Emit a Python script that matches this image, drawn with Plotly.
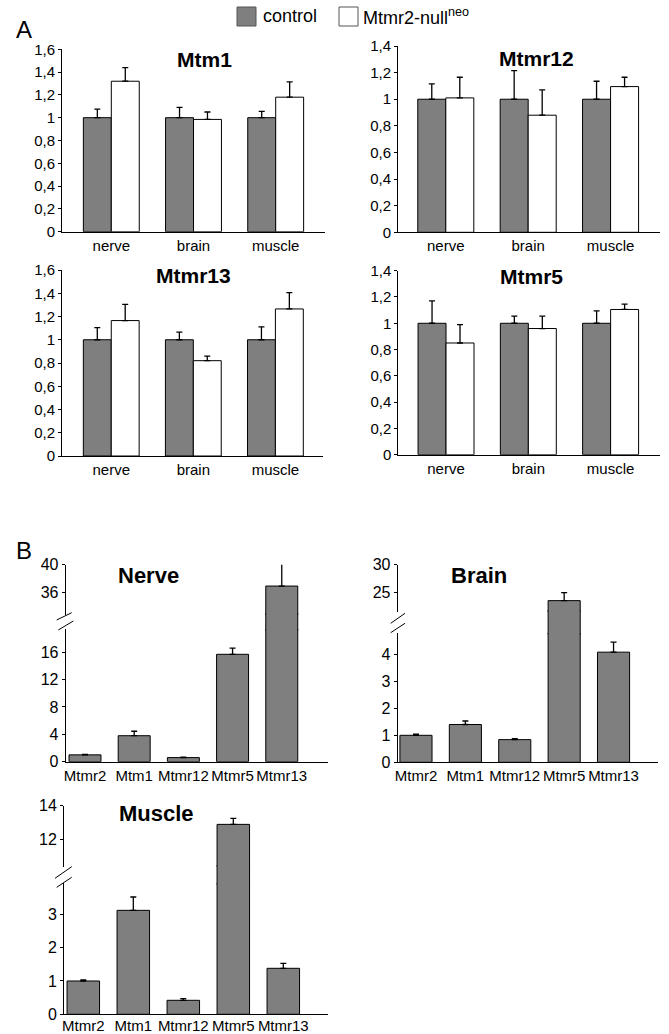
import plotly.graph_objects as go

W, H = 669, 1034
FONT = "Liberation Sans, Arial, Helvetica, sans-serif"
GREY = "#7f7f7f"

# ---------------- data ----------------
regions = ["nerve", "brain", "muscle"]
genes_b = ["Mtmr2", "Mtm1", "Mtmr12", "Mtmr5", "Mtmr13"]

a_titles = ["Mtm1", "Mtmr12", "Mtmr13", "Mtmr5"]

mtm1_control = [1.0, 1.0, 1.0]
mtm1_control_err = [0.075, 0.09, 0.055]
mtm1_null = [1.32, 0.985, 1.18]
mtm1_null_err = [0.12, 0.065, 0.135]

mtmr12_control = [1.0, 1.0, 1.0]
mtmr12_control_err = [0.115, 0.215, 0.135]
mtmr12_null = [1.01, 0.88, 1.095]
mtmr12_null_err = [0.155, 0.19, 0.07]

mtmr13_control = [1.0, 1.0, 1.0]
mtmr13_control_err = [0.105, 0.065, 0.11]
mtmr13_null = [1.165, 0.82, 1.265]
mtmr13_null_err = [0.14, 0.04, 0.14]

mtmr5_control = [1.0, 1.0, 1.0]
mtmr5_control_err = [0.17, 0.055, 0.095]
mtmr5_null = [0.85, 0.96, 1.105]
mtmr5_null_err = [0.14, 0.095, 0.04]

ticks_16_vals = [0, 0.2, 0.4, 0.6, 0.8, 1.0, 1.2, 1.4, 1.6]
ticks_16_text = ["0", "0,2", "0,4", "0,6", "0,8", "1", "1,2", "1,4", "1,6"]
ticks_14_vals = [0, 0.2, 0.4, 0.6, 0.8, 1.0, 1.2, 1.4]
ticks_14_text = ["0", "0,2", "0,4", "0,6", "0,8", "1", "1,2", "1,4"]

b_titles = ["Nerve", "Brain", "Muscle"]
nerve_expr = [1.0, 3.8, 0.6, 15.7, 36.9]
nerve_err = [0.07, 0.65, 0.08, 0.9, 3.5]
brain_expr = [1.0, 1.4, 0.84, 23.5, 4.08]
brain_err = [0.04, 0.13, 0.04, 1.45, 0.37]
muscle_expr = [1.0, 3.12, 0.42, 12.88, 1.38]
muscle_err = [0.03, 0.4, 0.05, 0.36, 0.15]

nerve_low_ticks = [0, 4, 8, 12, 16]
nerve_high_ticks = [36, 40]
brain_low_ticks = [0, 1, 2, 3, 4]
brain_high_ticks = [25, 30]
muscle_low_ticks = [0, 1, 2, 3]
muscle_high_ticks = [12, 14]

legend_labels = ["control", "Mtmr2-null<sup>neo</sup>"]

# ---------------- helpers ----------------
def px_x(x):
    return x / W

def px_y(y):
    return 1 - y / H

fig = go.Figure()
layout = dict(
    template="none",
    width=W, height=H, margin=dict(l=0, r=0, t=0, b=0, pad=0, autoexpand=False),
    paper_bgcolor="white", plot_bgcolor="rgba(0,0,0,0)",
    barmode="overlay", showlegend=False,
    font=dict(family=FONT, color="black"),
)
shapes = []
annotations = []

def err(arr):
    return dict(type="data", symmetric=False, array=arr, arrayminus=[0] * len(arr),
                color="black", thickness=1.3, width=3)

# ---------------- panel A ----------------
a_data = [
    (mtm1_control, mtm1_control_err, mtm1_null, mtm1_null_err),
    (mtmr12_control, mtmr12_control_err, mtmr12_null, mtmr12_null_err),
    (mtmr13_control, mtmr13_control_err, mtmr13_null, mtmr13_null_err),
    (mtmr5_control, mtmr5_control_err, mtmr5_null, mtmr5_null_err),
]
# (x0, x1, ytop, ybottom) in px, y max, ticks, xrange, title centre
a_geom = [
    (62, 325, 49.3, 231.7, 1.6, ticks_16_vals, ticks_16_text, [-0.6, 2.6], (204, 59)),
    (398, 660, 46, 232.3, 1.4, ticks_14_vals, ticks_14_text, [-0.58, 2.6], (536, 58)),
    (62, 323, 270, 456, 1.6, ticks_16_vals, ticks_16_text, [-0.6, 2.58], (193, 276)),
    (398.3, 660, 270.7, 454.7, 1.4, ticks_14_vals, ticks_14_text, [-0.58, 2.6], (531, 277)),
]
for i, ((c, ce, n, ne), (x0, x1, yt, yb, ymax, tv, tt, xr, tc)) in enumerate(zip(a_data, a_geom)):
    k = i + 1
    xa = "x" if k == 1 else f"x{k}"
    ya = "y" if k == 1 else f"y{k}"
    fig.add_trace(go.Bar(x=regions, y=c, xaxis=xa, yaxis=ya, width=0.34, offset=-0.34,
                         marker=dict(color=GREY, line=dict(color="black", width=1)),
                         error_y=err(ce), name="control"))
    fig.add_trace(go.Bar(x=regions, y=n, xaxis=xa, yaxis=ya, width=0.34, offset=0,
                         marker=dict(color="white", line=dict(color="black", width=1)),
                         error_y=err(ne), name="Mtmr2-null"))
    layout[f"xaxis{k}" if k > 1 else "xaxis"] = dict(
        domain=[px_x(x0), px_x(x1)], anchor=ya, type="category", range=xr, automargin=False,
        showline=True, linecolor="black", linewidth=1, ticks="", showgrid=False,
        tickfont=dict(size=15, family=FONT, color="black"), zeroline=False)
    layout[f"yaxis{k}" if k > 1 else "yaxis"] = dict(
        domain=[px_y(yb), px_y(yt)], anchor=xa, range=[0, ymax], automargin=False,
        tickvals=tv, ticktext=tt, showline=True, linecolor="black", linewidth=1,
        ticks="outside", ticklen=3, tickwidth=1, tickcolor="black", showgrid=False,
        zeroline=False, tickfont=dict(size=15, family=FONT, color="black"))
    annotations.append(dict(text=f"<b>{a_titles[i]}</b>", x=px_x(tc[0]), y=px_y(tc[1]),
                            xref="paper", yref="paper", showarrow=False,
                            font=dict(size=21, family=FONT, color="black"),
                            xanchor="center", yanchor="middle"))

# ---------------- panel B ----------------
b_data = [
    (nerve_expr, nerve_err, nerve_low_ticks, nerve_high_ticks),
    (brain_expr, brain_err, brain_low_ticks, brain_high_ticks),
    (muscle_expr, muscle_err, muscle_low_ticks, muscle_high_ticks),
]
# x0, x1, xrange, (y_zero, y_lowtop, y_upbottom, y_top) px, low range top, up range, title centre, slashes
b_geom = [
    (65.7, 328, [-0.392, 4.94], (761.7, 629, 615, 564.7), 19.4, [32.7, 40], (148, 575),
     [((56.7, 620), (71.7, 612.7)), ((58.3, 630), (73.3, 621))]),
    (397.7, 658, [-0.37, 4.9], (762.3, 633, 611.7, 564.7), 4.79, [21.5, 30], (479, 575),
     [((390.7, 623.3), (405, 613.3)), ((390.7, 632.7), (405, 623.3))]),
    (64, 328, [-0.386, 4.894], (1014.3, 883, 866.7, 805.7), 3.94, [10.34, 14], (156, 813),
     [((55, 878.3), (71.7, 866.7)), ((56.7, 887.3), (71.7, 877.3))]),
]
OV = 1.5  # px overlap of the hidden break strip with its neighbours
for j, ((vals, errs, lowt, hight), (x0, x1, xr, ys, lowtop, uprange, tc, slashes)) in enumerate(zip(b_data, b_geom)):
    kx = 5 + j
    ky_low = 5 + 3 * j
    ky_gap = ky_low + 1
    ky_up = ky_low + 2
    xa = f"x{kx}"
    y_zero, y_lt, y_ub, y_top = ys
    style = dict(xaxis=xa, width=0.65, offset=-0.325,
                 marker=dict(color=GREY, line=dict(color="black", width=1)), name=b_titles[j])
    # bars that run through the axis break continue in the hidden strip
    through = [v if v > uprange[0] else None for v in vals]
    fig.add_trace(go.Bar(x=genes_b, y=vals, yaxis=f"y{ky_low}", error_y=err(errs), **style))
    fig.add_trace(go.Bar(x=genes_b, y=through, yaxis=f"y{ky_gap}", **style))
    fig.add_trace(go.Bar(x=genes_b, y=through, yaxis=f"y{ky_up}", error_y=err(errs), **style))
    layout[f"xaxis{kx}"] = dict(
        domain=[px_x(x0), px_x(x1)], anchor=f"y{ky_low}", type="category", range=xr,
        automargin=False, showline=True, linecolor="black", linewidth=1, ticks="",
        showgrid=False, zeroline=False,
        tickfont=dict(size=15, family=FONT, color="black"))
    common = dict(anchor=xa, showgrid=False, zeroline=False, linecolor="black", linewidth=1,
                  ticks="outside", ticklen=3, tickwidth=1, tickcolor="black", automargin=False,
                  tickfont=dict(size=16, family=FONT, color="black"))
    layout[f"yaxis{ky_low}"] = dict(domain=[px_y(y_zero), px_y(y_lt)], range=[0, lowtop],
                                    tickvals=lowt, showline=True, **common)
    layout[f"yaxis{ky_gap}"] = dict(domain=[px_y(y_lt + OV), px_y(y_ub - OV)],
                                    range=[lowtop * 0.99, uprange[0] * 1.01],
                                    visible=False, anchor=xa, automargin=False)
    layout[f"yaxis{ky_up}"] = dict(domain=[px_y(y_ub), px_y(y_top)], range=uprange,
                                   tickvals=hight, showline=True, **common)
    annotations.append(dict(text=f"<b>{b_titles[j]}</b>", x=px_x(tc[0]), y=px_y(tc[1]),
                            xref="paper", yref="paper", showarrow=False,
                            font=dict(size=22, family=FONT, color="black"),
                            xanchor="center", yanchor="middle"))
    for (p0, p1) in slashes:
        shapes.append(dict(type="line", xref="paper", yref="paper",
                           x0=px_x(p0[0]), y0=px_y(p0[1]), x1=px_x(p1[0]), y1=px_y(p1[1]),
                           line=dict(color="black", width=1)))

layout["xaxis7"]["ticklabelstandoff"] = -2

# ---------------- legend & panel letters ----------------
shapes.append(dict(type="rect", xref="paper", yref="paper", x0=px_x(237), x1=px_x(256),
                   y0=px_y(26), y1=px_y(7), fillcolor=GREY, line=dict(color="#555555", width=1)))
shapes.append(dict(type="rect", xref="paper", yref="paper", x0=px_x(339), x1=px_x(358),
                   y0=px_y(26), y1=px_y(7), fillcolor="white", line=dict(color="#555555", width=1)))
annotations.append(dict(text=legend_labels[0], x=px_x(261), y=px_y(16), xref="paper", yref="paper",
                        showarrow=False, xanchor="left", yanchor="middle",
                        font=dict(size=18, family=FONT, color="black")))
annotations.append(dict(text=legend_labels[1], x=px_x(361), y=px_y(16), xref="paper", yref="paper",
                        showarrow=False, xanchor="left", yanchor="middle",
                        font=dict(size=18, family=FONT, color="black")))
annotations.append(dict(text="A", x=px_x(24), y=px_y(30), xref="paper", yref="paper",
                        showarrow=False, xanchor="center", yanchor="middle",
                        font=dict(size=24, family=FONT, color="black")))
annotations.append(dict(text="B", x=px_x(24), y=px_y(550), xref="paper", yref="paper",
                        showarrow=False, xanchor="center", yanchor="middle",
                        font=dict(size=24, family=FONT, color="black")))

layout["shapes"] = shapes
layout["annotations"] = annotations
fig.update_layout(**layout)
fig.write_html("out.html", config={"displayModeBar": False, "staticPlot": True},
               post_script="document.body.style.margin='0px';")
